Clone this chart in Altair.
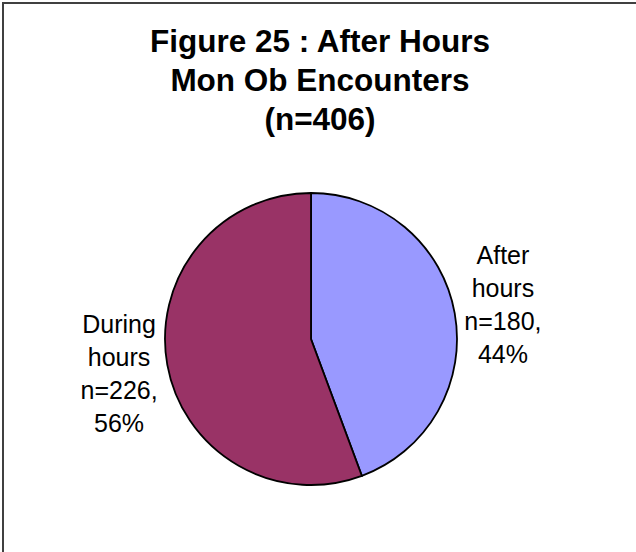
import altair as alt
import pandas as pd

categories = ["After hours", "During hours"]
counts = [180, 226]
percents = ["44%", "56%"]
label_lines = [["After", "hours", "n=180,", "44%"], ["During", "hours", "n=226,", "56%"]]
colors = ["#9999FF", "#993366"]
title_lines = ["Figure 25 : After Hours", "Mon Ob Encounters", "(n=406)"]

df = pd.DataFrame({
    "category": categories,
    "count": counts,
    "idx": list(range(len(categories))),
    "label": ["\n".join(l) for l in label_lines],
})

base = alt.Chart(df).encode(
    theta=alt.Theta("count:Q", stack=True),
    order=alt.Order("idx:Q"),
)

pie = base.mark_arc(stroke="black", strokeWidth=1.8, radius=146).encode(
    color=alt.Color("category:N", scale=alt.Scale(domain=categories, range=colors), legend=None),
    x=alt.value(311),
    y=alt.value(339),
)

labels = base.mark_text(
    radius=195, font="Liberation Sans", fontSize=25, lineBreak="\n",
    lineHeight=33, baseline="middle", align="center", color="black", dy=-49.5,
).encode(
    text="label:N",
    x=alt.value(311),
    y=alt.value(340),
)

frame = alt.Chart(pd.DataFrame({"a": [0]})).mark_rect(
    fill=None, stroke="#404040", strokeWidth=2
).encode(
    x=alt.value(3), x2=alt.value(800), y=alt.value(3), y2=alt.value(800)
)

chart = alt.layer(frame, pie, labels).properties(
    width=636, height=552,
    autosize=alt.AutoSizeParams(type="none"),
    padding=0,
    background="white",
    title=alt.TitleParams(
        text=title_lines, font="Liberation Sans", fontSize=31.5, fontWeight="bold",
        color="black", anchor="middle", frame="group", orient="top",
        baseline="top", offset=0, dy=136.5, dx=2, lineHeight=39,
    ),
).configure_view(stroke=None)

chart.save("out.html", embed_options={"renderer": "svg", "actions": False})
